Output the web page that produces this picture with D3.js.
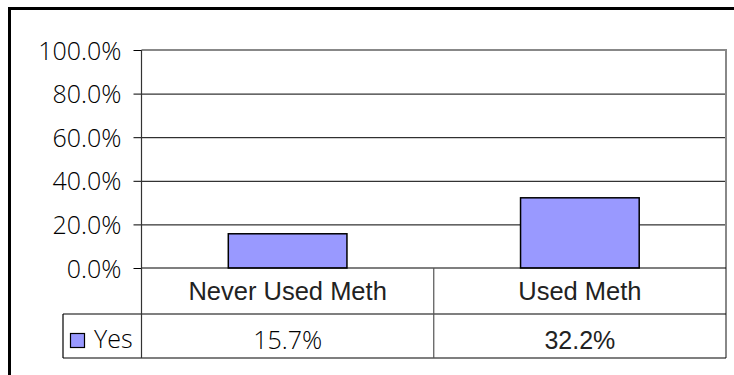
<!DOCTYPE html>
<html>
<head>
<meta charset="utf-8">
<script src="https://cdn.jsdelivr.net/npm/d3@7"></script>
<style>
  body { margin: 0; background: #fff; }
  svg { display: block; }
</style>
</head>
<body>
<svg id="chart" width="734" height="375"></svg>
<script>
// Chart data
const categories = ["Never Used Meth", "Used Meth"];
const seriesName = "Yes";
const yesValues = [15.7, 32.2];
const yTicks = [0, 20, 40, 60, 80, 100];

const W = 734, H = 375;
const plot = { left: 141.5, right: 726, top: 50, bottom: 268 };
const table = { catBottom: 314, bottom: 358, legendLeft: 63 };
const barFill = "#9999FF";
const geoFont = "'Open Sans', sans-serif";
const sansFont = "'Liberation Sans', Arial, sans-serif";

const svg = d3.select("#chart");

const x = d3.scaleBand().domain(categories).range([plot.left, plot.right]).padding(0);
const y = d3.scaleLinear().domain([0, 100]).range([plot.bottom, plot.top]);

// Outer frame (extends past the canvas on the right and bottom)
svg.append("rect")
  .attr("x", 9.5).attr("y", 8.5)
  .attr("width", W + 40).attr("height", H + 40)
  .attr("fill", "none").attr("stroke", "#000").attr("stroke-width", 3);

// Horizontal gridlines
svg.append("g")
  .attr("transform", `translate(${plot.left},0)`)
  .call(d3.axisLeft(y).tickValues(yTicks.filter(d => d > 0 && d < 100))
    .tickSize(-(plot.right - plot.left)).tickFormat(""))
  .call(g => g.select(".domain").remove())
  .call(g => g.selectAll("line").attr("stroke", "#000").attr("stroke-width", 1));

// Plot border (top and right)
svg.append("path")
  .attr("d", `M${plot.left},${plot.top}H${plot.right}V${table.bottom}`)
  .attr("fill", "none").attr("stroke", "#888").attr("stroke-width", 2);

// Bars
const barW = x.bandwidth() * 0.406;
svg.append("g").selectAll("rect")
  .data(categories.map((c, i) => ({ c, v: yesValues[i] })))
  .join("rect")
  .attr("x", d => x(d.c) + (x.bandwidth() - barW) / 2)
  .attr("y", d => y(d.v))
  .attr("width", barW)
  .attr("height", d => y(0) - y(d.v))
  .attr("fill", barFill)
  .attr("stroke", "#000")
  .attr("stroke-width", 1.5);

// Y axis with tick marks and percent labels
svg.append("g")
  .attr("transform", `translate(${plot.left},0)`)
  .call(d3.axisLeft(y).tickValues(yTicks)
    .tickFormat(d => d.toFixed(1) + "%")
    .tickSizeInner(8).tickSizeOuter(0).tickPadding(12))
  .call(g => g.select(".domain").remove())
  .call(g => g.selectAll("line").attr("stroke", "#000"))
  .call(g => g.selectAll("text")
    .attr("font-family", geoFont).attr("font-weight", 300)
    .attr("font-size", 25).attr("fill", "#000")
    .attr("dy", "0.36em"));

// Data table grid
const tbl = svg.append("g").attr("stroke", "#000").attr("stroke-width", 1.2).attr("fill", "none");
tbl.append("line").attr("x1", plot.left).attr("x2", plot.right).attr("y1", y(0)).attr("y2", y(0));
tbl.append("line").attr("x1", table.legendLeft).attr("x2", plot.right).attr("y1", table.catBottom).attr("y2", table.catBottom);
tbl.append("line").attr("x1", table.legendLeft).attr("x2", plot.right).attr("y1", table.bottom).attr("y2", table.bottom);
tbl.append("line").attr("x1", table.legendLeft).attr("x2", table.legendLeft).attr("y1", table.catBottom).attr("y2", table.bottom);
tbl.append("line").attr("x1", plot.left).attr("x2", plot.left).attr("y1", plot.top).attr("y2", table.bottom)
  .attr("stroke", "#333");
categories.slice(1).forEach(c => {
  tbl.append("line").attr("x1", x(c)).attr("x2", x(c)).attr("y1", y(0)).attr("y2", table.bottom)
    .attr("stroke", "#555");
});

// Category labels
svg.append("g").selectAll("text")
  .data(categories).join("text")
  .attr("x", d => x(d) + x.bandwidth() / 2)
  .attr("y", 300)
  .attr("text-anchor", "middle")
  .attr("font-family", sansFont).attr("font-size", 25.5).attr("fill", "#222")
  .text(d => d);

// Value row
svg.append("g").selectAll("text")
  .data(yesValues).join("text")
  .attr("x", (d, i) => x(categories[i]) + x.bandwidth() / 2)
  .attr("y", 349)
  .attr("text-anchor", "middle")
  .attr("font-family", (d, i) => i === 0 ? geoFont : sansFont)
  .attr("font-weight", (d, i) => i === 0 ? 300 : 400)
  .attr("font-size", 25).attr("fill", (d, i) => i === 0 ? "#000" : "#222")
  .text(d => d.toFixed(1) + "%");

// Legend key
svg.append("rect")
  .attr("x", 70.5).attr("y", 333.5).attr("width", 14).attr("height", 14)
  .attr("fill", barFill).attr("stroke", "#000").attr("stroke-width", 1.2);
svg.append("text")
  .attr("x", 94).attr("y", 348)
  .attr("font-family", geoFont).attr("font-weight", 300)
  .attr("font-size", 25).attr("fill", "#000")
  .text(seriesName);
</script>
</body>
</html>
